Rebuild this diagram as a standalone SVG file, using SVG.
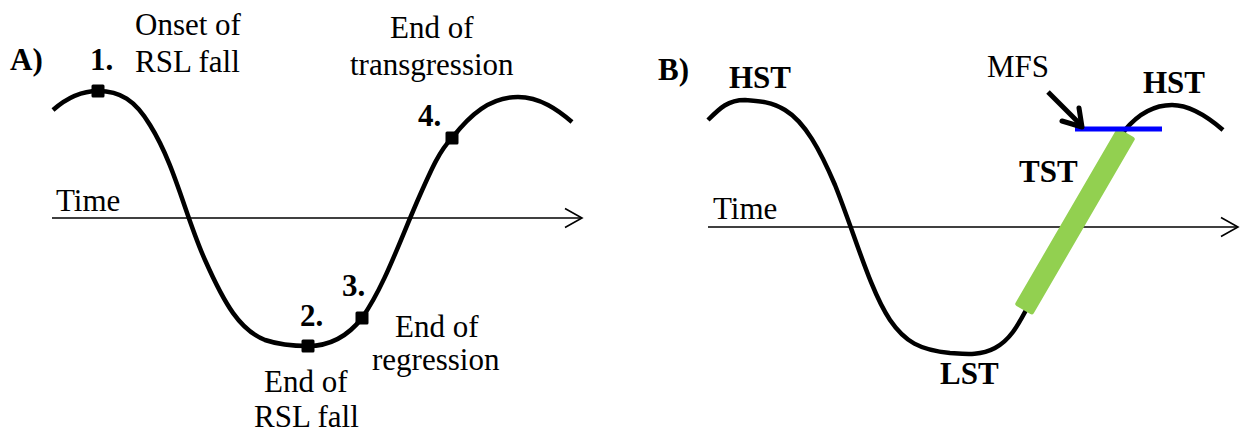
<svg xmlns="http://www.w3.org/2000/svg" width="1242" height="432" viewBox="0 0 1242 432">
<defs>
<style>
.t{font-size:31px;fill:#000}
.b{font-weight:bold}
.curve{fill:none;stroke:#000;stroke-width:4.5;stroke-linecap:butt;stroke-linejoin:round}
.axis{fill:none;stroke:#000;stroke-width:1.6}
.mk{fill:#000}
</style>
</defs>
<rect width="1242" height="432" fill="#fff"/>
<g id="panelA">
<text id="labelA" class="t b" font-family="Liberation Serif" x="10" y="70">A)</text>
<g id="axisA">
<line class="axis" x1="52" y1="218" x2="582" y2="218"/>
<polyline class="axis" points="565,208.5 582,218 565,227.5"/>
<text class="t" font-family="Liberation Serif" x="56" y="211">Time</text>
</g>
<path id="curveA" class="curve" d="M53,110 C70,95 85,91 98,91 C120,91 135,100 150,125 C175,165 185,215 205,260 C225,305 240,330 265,340 C280,345 295,346 308,346 C330,346 348,336 362,318 C385,285 400,240 420,195 C432,168 440,150 452,138 C470,115 490,97 518,97 C540,97 558,110 572,122"/>
<g id="p1"><rect class="mk" x="91.5" y="84.5" width="13" height="13" rx="1.5"/><text class="t b" font-family="Liberation Serif" x="90" y="70">1.</text><text class="t" font-family="Liberation Serif" x="135" y="35">Onset of</text><text class="t" font-family="Liberation Serif" x="135" y="72">RSL fall</text></g>
<g id="p2"><rect class="mk" x="301.5" y="339.5" width="13" height="13" rx="1.5"/><text class="t b" font-family="Liberation Serif" x="300" y="326">2.</text><text class="t" font-family="Liberation Serif" x="264" y="392">End of</text><text class="t" font-family="Liberation Serif" x="254" y="427">RSL fall</text></g>
<g id="p3"><rect class="mk" x="355.5" y="311.5" width="13" height="13" rx="1.5"/><text class="t b" font-family="Liberation Serif" x="342" y="296">3.</text><text class="t" font-family="Liberation Serif" x="395" y="337">End of</text><text class="t" font-family="Liberation Serif" x="372" y="370">regression</text></g>
<g id="p4"><rect class="mk" x="445.5" y="131.5" width="13" height="13" rx="1.5"/><text class="t b" font-family="Liberation Serif" x="418" y="126">4.</text><text class="t" font-family="Liberation Serif" x="390" y="38">End of</text><text class="t" font-family="Liberation Serif" x="350" y="75">transgression</text></g>
</g>
<g id="panelB">
<text id="labelB" class="t b" font-family="Liberation Serif" x="658" y="80">B)</text>
<g id="axisB">
<line class="axis" x1="708" y1="227" x2="1238" y2="227"/>
<polyline class="axis" points="1221,217.5 1238,227 1221,236.5"/>
<text class="t" font-family="Liberation Serif" x="713" y="219">Time</text>
</g>
<path id="curveB" class="curve" d="M708,120 C720,108 728,100 745,100 C760,101 772,102 785,110 C805,122 820,150 835,185 C855,235 870,290 890,320 C905,342 920,350 950,353 C965,354 980,356 995,348 C1010,340 1018,325 1025,312 L1125,130 C1140,112 1155,105 1172,105 C1190,105 1208,117 1223,130"/>
<g id="tst"><rect x="-102.5" y="-10.5" width="205" height="21" rx="2.5" fill="#92d050" transform="translate(1075,221.5) rotate(-59.8)"/><text class="t b" font-family="Liberation Serif" x="1019" y="182">TST</text></g>
<g id="mfs"><line x1="1075" y1="129" x2="1162" y2="129" stroke="#0000ff" stroke-width="5"/><text class="t" font-family="Liberation Serif" x="987" y="77">MFS</text></g>
<g id="hst1"><text class="t b" font-family="Liberation Serif" x="729" y="88">HST</text></g>
<g id="hst2"><text class="t b" font-family="Liberation Serif" x="1143" y="93">HST</text></g>
<g id="lst"><text class="t b" font-family="Liberation Serif" x="940" y="384">LST</text></g>
</g>
<g id="connectors">
<line x1="1048" y1="92" x2="1081" y2="125" stroke="#000" stroke-width="5"/>
<polyline points="1062,121 1082,127 1079,108" fill="none" stroke="#000" stroke-width="5" stroke-linecap="round" stroke-linejoin="round"/>
</g>
</svg>
